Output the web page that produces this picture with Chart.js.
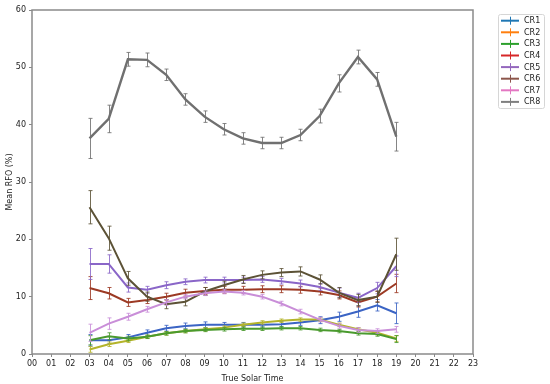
<!DOCTYPE html>
<html>
<head>
<meta charset="utf-8">
<script src="https://cdn.jsdelivr.net/npm/chart.js@4.4.1/dist/chart.umd.min.js"></script>
<style>
  html, body { margin: 0; padding: 0; background: #fff; }
  #wrap { position: relative; width: 550px; height: 384px; }
</style>
</head>
<body>
<div id="wrap"><canvas id="c" width="550" height="384"></canvas></div>
<script>
// ---- data ----
const hours = [3,4,5,6,7,8,9,10,11,12,13,14,15,16,17,18,19];
const xTickLabels = ["00","01","02","03","04","05","06","07","08","09","10","11","12","13","14","15","16","17","18","19","20","21","22","23"];
const seriesNames = ["CR1","CR2","CR3","CR4","CR5","CR6","CR7","CR8"];

const cr1 = [2.4, 2.4, 2.9, 3.7, 4.5, 4.9, 5.1, 5.1, 5.1, 5.1, 5.2, 5.5, 5.9, 6.5, 7.4, 8.5, 7.1];
const cr2 = [0.8, 1.7, 2.3, 3.0, 3.6, 4.0, 4.3, 4.6, 5.1, 5.5, 5.8, 6.0, 6.0, 5.1, 4.3, 3.7, 2.7];
const cr3 = [2.4, 3.1, 2.7, 3.0, 3.6, 4.0, 4.2, 4.3, 4.4, 4.4, 4.5, 4.5, 4.2, 4.0, 3.6, 3.5, 2.6];
const cr4 = [11.5, 10.6, 9.0, 9.4, 10.0, 10.7, 11.0, 11.2, 11.2, 11.3, 11.3, 11.2, 10.9, 10.3, 9.0, 10.0, 12.3];
const cr5 = [15.7, 15.7, 11.6, 11.2, 12.0, 12.6, 12.9, 12.9, 12.9, 13.0, 12.7, 12.3, 11.7, 10.7, 9.8, 11.5, 15.3];
const cr6 = [25.6, 20.2, 13.2, 10.0, 8.7, 9.1, 10.9, 12.0, 13.0, 13.8, 14.2, 14.4, 13.0, 10.7, 9.4, 10.0, 17.4];
const cr7 = [3.7, 5.3, 6.5, 7.8, 9.0, 10.0, 10.6, 10.9, 10.7, 10.0, 8.8, 7.4, 6.0, 4.9, 4.2, 4.0, 4.3];
const cr8 = [37.6, 41.0, 51.4, 51.3, 48.7, 44.4, 41.4, 39.2, 37.6, 36.8, 36.8, 38.2, 41.5, 47.2, 51.8, 47.9, 37.9];

const err1 = [1.0, 0.6, 0.5, 0.5, 0.5, 0.5, 0.5, 0.4, 0.4, 0.4, 0.5, 0.5, 0.6, 0.8, 1.0, 1.0, 1.8];
const err2 = [0.5, 0.4, 0.3, 0.3, 0.3, 0.3, 0.3, 0.3, 0.3, 0.3, 0.3, 0.3, 0.3, 0.3, 0.3, 0.4, 0.5];
const err3 = [0.8, 0.6, 0.4, 0.3, 0.3, 0.3, 0.3, 0.3, 0.3, 0.3, 0.3, 0.3, 0.3, 0.3, 0.3, 0.4, 0.6];
const err4 = [2.0, 1.0, 0.7, 0.6, 0.6, 0.6, 0.6, 0.6, 0.6, 0.6, 0.6, 0.6, 0.6, 0.7, 0.8, 0.9, 1.6];
const err5 = [2.7, 1.6, 0.8, 0.6, 0.6, 0.5, 0.5, 0.5, 0.5, 0.5, 0.5, 0.6, 0.6, 0.8, 0.8, 1.0, 1.8];
const err6 = [2.9, 2.1, 1.2, 0.8, 0.8, 0.7, 0.7, 0.7, 0.7, 0.7, 0.7, 0.8, 0.8, 0.9, 1.0, 1.0, 2.8];
const err7 = [1.5, 1.0, 0.6, 0.5, 0.5, 0.4, 0.4, 0.4, 0.4, 0.4, 0.4, 0.4, 0.4, 0.4, 0.4, 0.4, 0.5];
const err8 = [3.5, 2.4, 1.2, 1.2, 1.0, 1.0, 1.0, 1.0, 1.0, 1.0, 1.0, 1.0, 1.2, 1.5, 1.2, 1.2, 2.5];

const lineColors   = ["#3b64c4", "#b4b42a", "#4a9a2e", "#9c3a24", "#8a66c8", "#5c5236", "#c98ed8", "#707070"];
const legendColors = ["#1f77b4", "#ff7f0e", "#2ca02c", "#d62728", "#9467bd", "#8c564b", "#e377c2", "#7f7f7f"];

const values = [cr1, cr2, cr3, cr4, cr5, cr6, cr7, cr8];
const errors = [err1, err2, err3, err4, err5, err6, err7, err8];

const datasets = values.map((v, i) => ({
  label: seriesNames[i],
  data: hours.map((h, j) => ({ x: h, y: v[j] })),
  errs: errors[i],
  borderColor: lineColors[i],
  backgroundColor: lineColors[i],
  borderWidth: i === 7 ? 2.4 : 2,
  pointRadius: 0,
  tension: 0,
  fill: false,
  order: 8 - i
}));

const FONT = "'DejaVu Sans', sans-serif";

const errorBars = {
  id: 'errorBars',
  afterDatasetDraw(chart, args) {
    const ds = chart.data.datasets[args.index];
    const meta = args.meta;
    const ys = chart.scales.y;
    const ctx = chart.ctx;
    ctx.save();
    ctx.strokeStyle = ds.borderColor;
    ctx.globalAlpha = 0.85;
    ctx.lineWidth = 1;
    meta.data.forEach((pt, j) => {
      const v = ds.data[j].y, e = ds.errs[j];
      const x = Math.round(pt.x) + 0.5;
      const y1 = ys.getPixelForValue(v - e);
      const y2 = ys.getPixelForValue(v + e);
      ctx.beginPath();
      ctx.moveTo(x, y1); ctx.lineTo(x, y2);
      ctx.moveTo(x - 2, y1); ctx.lineTo(x + 2, y1);
      ctx.moveTo(x - 2, y2); ctx.lineTo(x + 2, y2);
      ctx.stroke();
    });
    ctx.restore();
  }
};

const frameAndLegend = {
  id: 'frameAndLegend',
  afterDraw(chart) {
    const ctx = chart.ctx;
    const a = chart.chartArea;
    ctx.save();
    ctx.strokeStyle = '#8a8a8a';
    ctx.lineWidth = 1.5;
    ctx.strokeRect(a.left, a.top, a.right - a.left, a.bottom - a.top);
    // legend
    const lx = 498, ly = 14, lw = 46, lh = 94;
    ctx.fillStyle = 'rgba(255,255,255,0.8)';
    ctx.strokeStyle = '#d6d6d6';
    ctx.lineWidth = 1;
    ctx.beginPath();
    if (ctx.roundRect) ctx.roundRect(lx + 0.5, ly + 0.5, lw, lh, 2); else ctx.rect(lx + 0.5, ly + 0.5, lw, lh);
    ctx.fill(); ctx.stroke();
    ctx.font = "8px " + FONT;
    ctx.textBaseline = 'middle';
    ctx.textAlign = 'left';
    seriesNames.forEach((n, i) => {
      const y = 20.7 + i * 11.6;
      ctx.strokeStyle = legendColors[i];
      ctx.lineWidth = 2;
      ctx.beginPath(); ctx.moveTo(501, y); ctx.lineTo(519, y); ctx.stroke();
      ctx.lineWidth = 1;
      ctx.beginPath(); ctx.moveTo(510.5, y - 4); ctx.lineTo(510.5, y + 4); ctx.stroke();
      ctx.fillStyle = '#222';
      ctx.fillText(n, 524, y + 0.5);
    });
    ctx.restore();
  }
};

new Chart(document.getElementById('c'), {
  type: 'line',
  data: { datasets },
  options: {
    responsive: false,
    animation: false,
    devicePixelRatio: 1,
    layout: { padding: { left: 0, right: 77, top: 10, bottom: 0 } },
    plugins: { legend: { display: false }, tooltip: { enabled: false } },
    scales: {
      x: {
        type: 'linear', min: 0, max: 23,
        afterFit(s) { s.height = 30; },
        afterBuildTicks(s) { s.ticks = xTickLabels.map((_, i) => ({ value: i })); },
        ticks: {
          autoSkip: false, maxRotation: 0, padding: 2, color: '#222',
          font: { family: FONT, size: 8 },
          callback: (v) => xTickLabels[v]
        },
        grid: { display: true, drawOnChartArea: false, drawTicks: true, tickLength: 3, color: '#888' },
        border: { display: false },
        title: { display: true, text: 'True Solar Time', color: '#222', font: { family: FONT, size: 8 }, padding: { top: 2, bottom: 0 } }
      },
      y: {
        min: 0, max: 60,
        afterFit(s) { s.width = 32; },
        ticks: { stepSize: 10, padding: 3, color: '#222', font: { family: FONT, size: 8 } },
        grid: { display: true, drawOnChartArea: false, drawTicks: true, tickLength: 3, color: '#888' },
        border: { display: false },
        title: { display: true, text: 'Mean RFO (%)', color: '#222', font: { family: FONT, size: 8 }, padding: { top: 5, bottom: 0 } }
      }
    }
  },
  plugins: [errorBars, frameAndLegend]
});
</script>
</body>
</html>
